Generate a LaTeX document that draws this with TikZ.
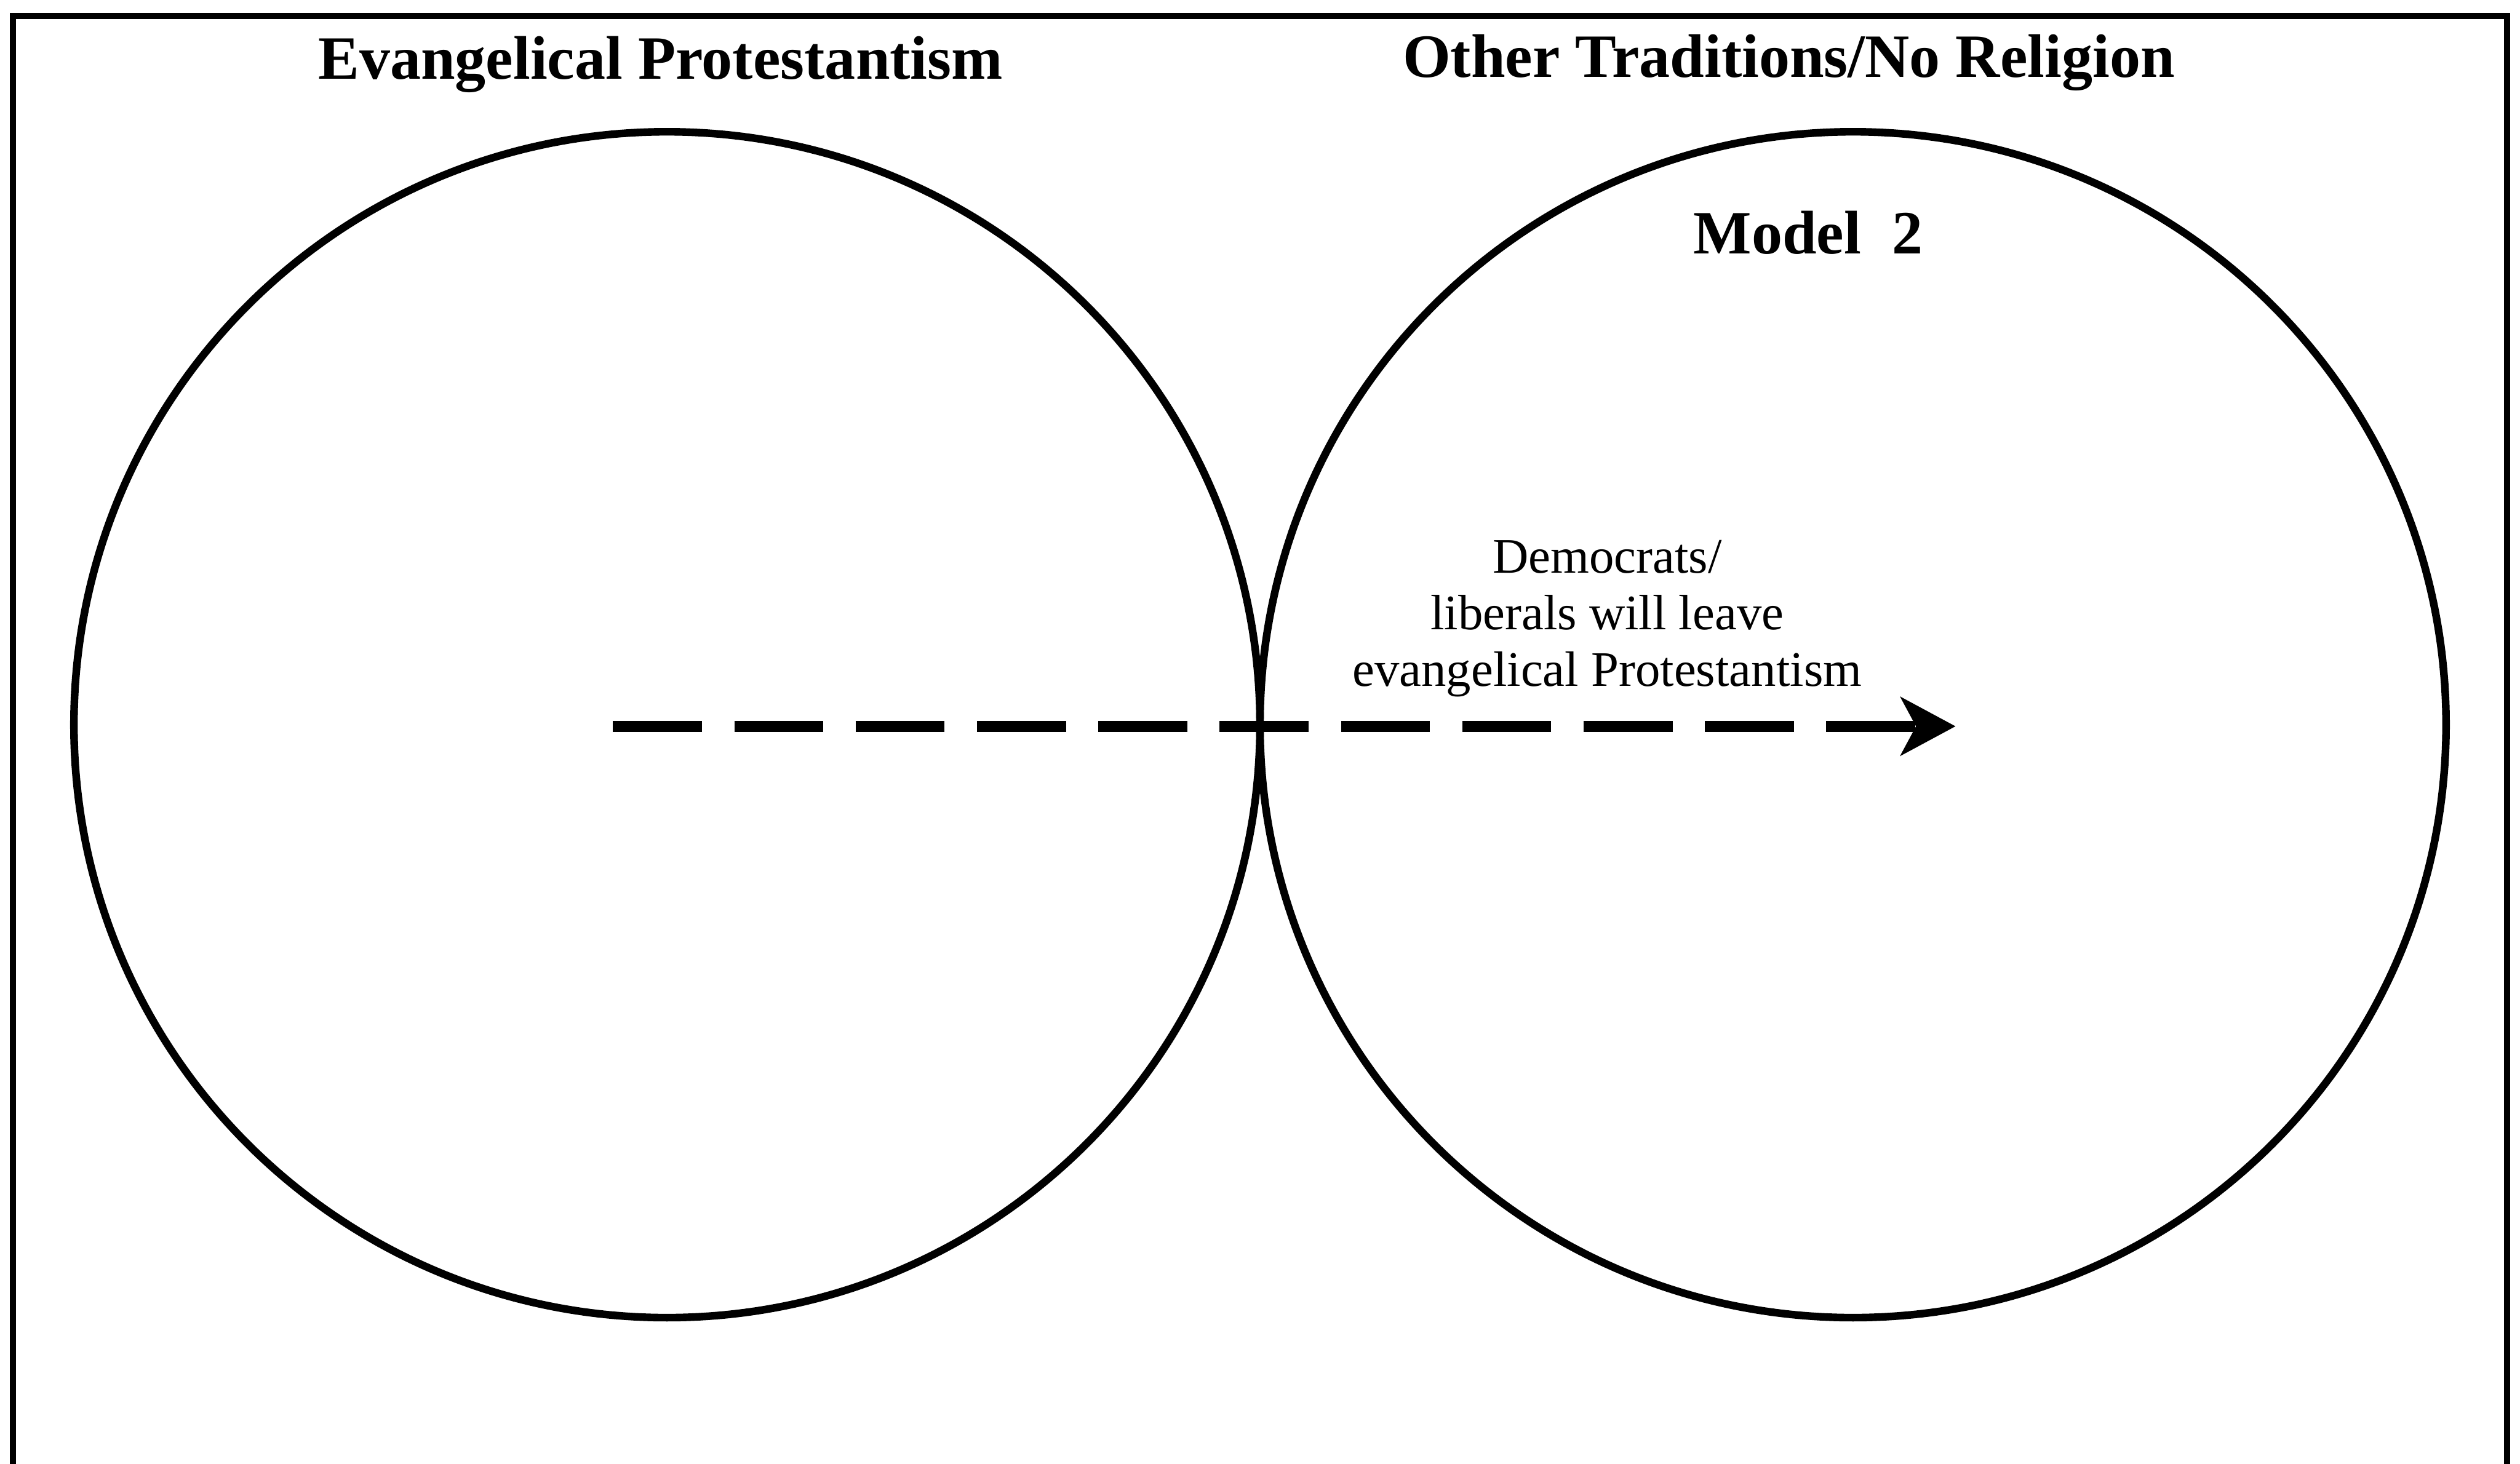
\documentclass[tikz,border=0pt]{standalone}
\usepackage{fontspec}
\setmainfont{Liberation Serif}
\usepackage{tikz}
\usetikzlibrary{positioning, arrows.meta}
\tikzset{
  ring/.style={circle, draw=black, line width=1.35pt, minimum size=7.38cm,
               inner sep=0pt, outer sep=0pt},
  head/.style={anchor=base, inner sep=0pt, font=\fontsize{10.9}{13}\selectfont\bfseries},
  note/.style={align=center, inner sep=0pt, font=\fontsize{8.8}{10}\selectfont},
  move/.style={-{Stealth[length=9.7pt, width=10.3pt, inset=2.7pt]}, line width=2pt,
               dash pattern=on 15.75pt off 5.73pt},
}
\begin{document}
\begin{tikzpicture}[x=0.1mm, y=-0.1mm]
  \useasboundingbox (0,0) rectangle (1568,911);
  % frame, bottom edge falls off the page
  \draw[line width=1.05pt] (8,911) -- (8,10) -- (1560,10) -- (1560,911);
  \node[ring] (evang) at (415,451) {};
  \node[ring, right=0pt of evang] (other) {};
  \node[head] (evangT) at (411,49.3) {Evangelical Protestantism};
  \node[head] (otherT) at (1113,48) {Other Traditions/No Religion};
  \node[head] (model) at (1125,158) {Model~~2};
  \node[note] (leave) at (1000,385) {Democrats/\\liberals will leave\\evangelical Protestantism};
  \coordinate (go) at (381.4,452);
  \coordinate (stop) at (1216.8,452);
  \draw[move] (go) -- (stop);
\end{tikzpicture}
\end{document}
